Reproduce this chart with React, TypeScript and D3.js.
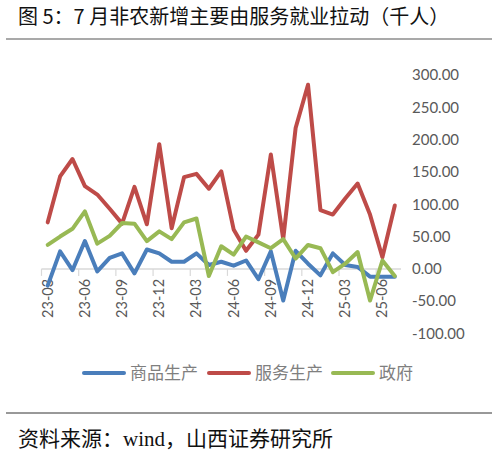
import * as d3 from "d3";
import { useEffect, useRef } from "react";

const months = [
  "23-03", "23-04", "23-05", "23-06", "23-07", "23-08", "23-09", "23-10",
  "23-11", "23-12", "24-01", "24-02", "24-03", "24-04", "24-05", "24-06",
  "24-07", "24-08", "24-09", "24-10", "24-11", "24-12", "25-01", "25-02",
  "25-03", "25-04", "25-05", "25-06", "25-07",
];

// 商品生产
const goods = [
  -26, 27, -2, 43, -4, 17, 24, -7, 30, 24, 11, 11, 24, 6, 11, 5, 13, -16, 27,
  -49, 28, 8, -10, 24, 6, 3, -12, -12, -12,
];
// 服务生产
const services = [
  72, 143, 170, 128, 115, 93, 70, 127, 69, 193, 63, 142, 147, 124, 151, 61,
  28, 53, 177, 46, 218, 285, 91, 84, 109, 132, 84, 18, 98,
];
// 政府
const government = [
  37, 50, 62, 89, 39, 51, 71, 70, 43, 58, 46, 72, 78, -11, 35, 22, 50, 41, 32,
  46, 16, 37, 32, -5, 8, 26, -49, 13, -11,
];

const yTicks = [300, 250, 200, 150, 100, 50, 0, -50, -100];

const series = [
  { name: "商品生产", values: goods, color: "#4a7ebb" },
  { name: "服务生产", values: services, color: "#be4b48" },
  { name: "政府", values: government, color: "#98b954" },
];

const W = 497;
const H = 454;

const App = () => {
  const ref = useRef<SVGSVGElement>(null);

  useEffect(() => {
    const svg = d3.select(ref.current).html("");

    // title
    svg
      .append("text")
      .attr("x", 18)
      .attr("y", 23.5)
      .style("font-family", "'Noto Sans CJK SC', sans-serif")
      .style("font-size", "20px")
      .style("fill", "#111")
      .text("图 5：7 月非农新增主要由服务就业拉动（千人）");

    svg
      .append("line")
      .attr("x1", 6)
      .attr("x2", 492)
      .attr("y1", 39)
      .attr("y2", 39)
      .attr("stroke", "#8c8c8c")
      .attr("stroke-width", 1.5);

    const x = d3.scaleBand<string>().domain(months).range([41.5, 401]);
    const y = d3.scaleLinear().domain([-100, 300]).range([333.5, 75]);

    // axis line at zero
    svg
      .append("line")
      .attr("x1", 41.5)
      .attr("x2", 401)
      .attr("y1", y(0))
      .attr("y2", y(0))
      .attr("stroke", "#d9d9d9")
      .attr("stroke-width", 1.5);

    // category tick marks (between categories, every 3)
    months.forEach((m, i) => {
      if (i % 3 !== 0) return;
      const tx = x(m)!;
      svg
        .append("line")
        .attr("x1", tx)
        .attr("x2", tx)
        .attr("y1", y(0))
        .attr("y2", y(0) + 7)
        .attr("stroke", "#d9d9d9")
        .attr("stroke-width", 1.2);
    });

    // x labels, rotated
    months.forEach((m, i) => {
      if (i % 3 !== 0) return;
      const cx = x(m)! + x.bandwidth() / 2;
      svg
        .append("text")
        .attr("transform", `translate(${cx + 5}, ${y(0) + 10}) rotate(-90)`)
        .attr("text-anchor", "end")
        .style("font-family", "Lato, sans-serif")
        .style("font-size", "14.5px")
        .style("fill", "#595959")
        .text(m);
    });

    // y labels on the right
    yTicks.forEach((t) => {
      svg
        .append("text")
        .attr("x", 412)
        .attr("y", y(t))
        .attr("dy", "0.35em")
        .style("font-family", "Lato, sans-serif")
        .style("font-size", "15px")
        .style("fill", "#595959")
        .text(t.toFixed(2));
    });

    const line = d3
      .line<number>()
      .x((_, i) => x(months[i])! + x.bandwidth() / 2)
      .y((d) => y(d));

    series.forEach((s) => {
      svg
        .append("path")
        .attr("d", line(s.values))
        .attr("fill", "none")
        .attr("stroke", s.color)
        .attr("stroke-width", 4)
        .attr("stroke-linejoin", "round")
        .attr("stroke-linecap", "round");
    });

    // legend
    const legendX = [82, 207, 331];
    series.forEach((s, i) => {
      const lx = legendX[i];
      svg
        .append("line")
        .attr("x1", lx + 2)
        .attr("x2", lx + 42)
        .attr("y1", 373)
        .attr("y2", 373)
        .attr("stroke", s.color)
        .attr("stroke-width", 4)
        .attr("stroke-linecap", "round");
      svg
        .append("text")
        .attr("x", lx + 48)
        .attr("y", 373)
        .attr("dy", "0.35em")
        .style("font-family", "'Noto Sans CJK SC', sans-serif")
        .style("font-size", "17px")
        .style("fill", "#7f7f7f")
        .text(s.name);
    });

    // footer
    svg
      .append("line")
      .attr("x1", 6)
      .attr("x2", 492)
      .attr("y1", 413)
      .attr("y2", 413)
      .attr("stroke", "#333")
      .attr("stroke-width", 1);

    const foot = svg
      .append("text")
      .attr("x", 18)
      .attr("y", 446)
      .style("font-family", "'Noto Sans CJK SC', sans-serif")
      .style("font-size", "21px")
      .style("fill", "#111");
    foot.append("tspan").text("资料来源：");
    foot
      .append("tspan")
      .style("font-family", "'Liberation Serif', serif")
      .text("wind");
    foot.append("tspan").text("，山西证券研究所");
  }, []);

  return (
    <svg
      ref={ref}
      width={W}
      height={H}
      style={{ position: "absolute", left: 0, top: 0, background: "#fff" }}
    ></svg>
  );
};

export default App;
